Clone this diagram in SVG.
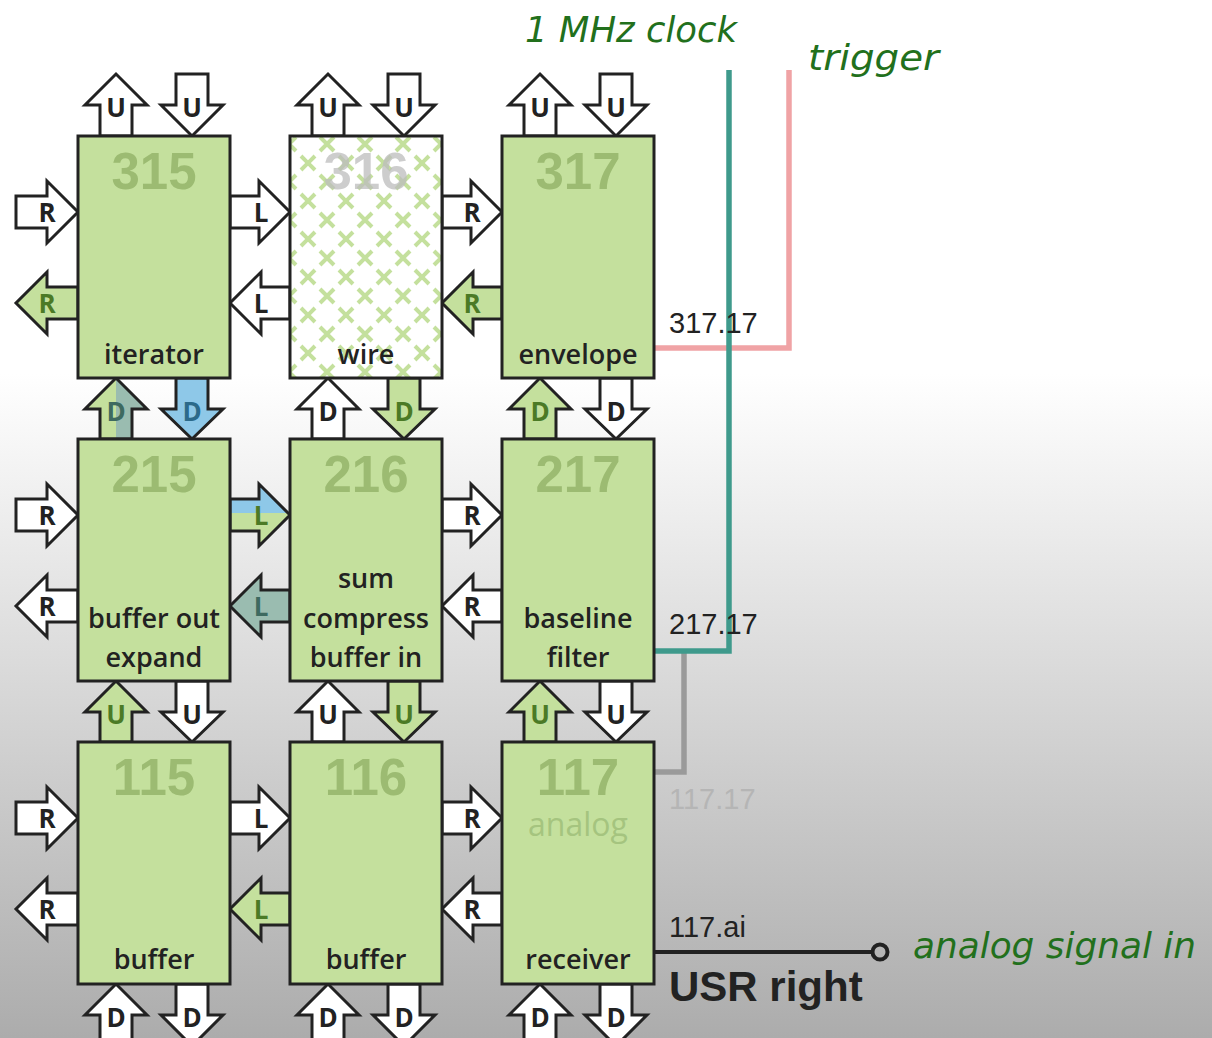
<svg xmlns="http://www.w3.org/2000/svg" width="1212" height="1038" viewBox="0 0 1212 1038">
<defs>
<linearGradient id="bg" gradientUnits="userSpaceOnUse" x1="0" y1="0" x2="0" y2="1038">
<stop offset="0.36" stop-color="#ffffff"/><stop offset="1" stop-color="#acacac"/>
</linearGradient>
<linearGradient id="splitGT" x1="0" y1="0" x2="1" y2="0">
<stop offset="0.5" stop-color="#c4e09d"/><stop offset="0.5" stop-color="#9abcb0"/>
</linearGradient>
<linearGradient id="splitBG" x1="0" y1="0" x2="0" y2="1">
<stop offset="0.47" stop-color="#8ec8e8"/><stop offset="0.47" stop-color="#c4e09d"/>
</linearGradient>
<pattern id="xpat" patternUnits="userSpaceOnUse" x="308" y="163" width="38" height="38">
<path d="M-7,-7L7,7M-7,7L7,-7M31,-7L45,7M31,7L45,-7M-7,31L7,45M-7,45L7,31M31,31L45,45M31,45L45,31M12,12L26,26M12,26L26,12" stroke="#c4e09d" stroke-width="4" fill="none"/>
</pattern>
<style>
.box{fill:#c4e09d;stroke:#222;stroke-width:3}
.frame{fill:none;stroke:#222;stroke-width:3}
.num{font-family:"Liberation Sans",Arial,sans-serif;font-weight:bold;font-size:51px;fill:#9cbb72;text-anchor:middle}
.lbl{font-family:"Open Sans","Liberation Sans",sans-serif;font-weight:600;font-size:27px;fill:#222;text-anchor:middle}
.arw{stroke:#222;stroke-width:3;stroke-linejoin:miter}
.w{fill:#fff}.g{fill:#c4e09d}.b{fill:#8ec8e8}.t{fill:#9abcb0}
.al{font-family:"Open Sans","Liberation Sans",sans-serif;font-weight:bold;font-size:26px;text-anchor:middle;fill:#222}
.lg{fill:#4b7a26}.lb{fill:#2c6a8a}.lt{fill:#3e6a60}
.wire{fill:none;stroke-width:5.5;stroke-linejoin:miter;stroke-linecap:butt}
.pin{font-family:"Liberation Sans",Arial,sans-serif;font-size:29px;fill:#222}
.hand{font-family:"DejaVu Sans",sans-serif;font-style:italic;font-size:36px;fill:#22701c}
</style>
</defs>
<rect x="0" y="0" width="1212" height="1038" fill="url(#bg)"/>

<g id="connectors">
<!-- top U arrows -->
<polygon class="arw w" points="100,136 100,105 85,105 116,74 147,105 132,105 132,136"/>
<polygon class="arw w" points="312,136 312,105 297,105 328,74 359,105 344,105 344,136"/>
<polygon class="arw w" points="524,136 524,105 509,105 540,74 571,105 556,105 556,136"/>
<polygon class="arw w" points="176,74 208,74 208,105 223,105 192,136 161,105 176,105"/>
<polygon class="arw w" points="388,74 420,74 420,105 435,105 404,136 373,105 388,105"/>
<polygon class="arw w" points="600,74 632,74 632,105 647,105 616,136 585,105 600,105"/>
<text class="al" x="116" y="117">U</text><text class="al" x="192" y="117">U</text>
<text class="al" x="328" y="117">U</text><text class="al" x="404" y="117">U</text>
<text class="al" x="540" y="117">U</text><text class="al" x="616" y="117">U</text>

<!-- rows 1-2 D arrows -->
<polygon class="arw" fill="url(#splitGT)" points="100,439 100,409 85,409 116,378 147,409 132,409 132,439"/>
<polygon class="arw w" points="312,439 312,409 297,409 328,378 359,409 344,409 344,439"/>
<polygon class="arw g" points="524,439 524,409 509,409 540,378 571,409 556,409 556,439"/>
<polygon class="arw b" points="176,378 208,378 208,409 223,409 192,439 161,409 176,409"/>
<polygon class="arw g" points="388,378 420,378 420,409 435,409 404,439 373,409 388,409"/>
<polygon class="arw w" points="600,378 632,378 632,409 647,409 616,439 585,409 600,409"/>
<text class="al lt" x="116" y="421">D</text><text class="al lb" x="192" y="421">D</text>
<text class="al" x="328" y="421">D</text><text class="al lg" x="404" y="421">D</text>
<text class="al lg" x="540" y="421">D</text><text class="al" x="616" y="421">D</text>

<!-- rows 2-3 U arrows -->
<polygon class="arw g" points="100,742 100,712 85,712 116,681 147,712 132,712 132,742"/>
<polygon class="arw w" points="312,742 312,712 297,712 328,681 359,712 344,712 344,742"/>
<polygon class="arw g" points="524,742 524,712 509,712 540,681 571,712 556,712 556,742"/>
<polygon class="arw w" points="176,681 208,681 208,712 223,712 192,742 161,712 176,712"/>
<polygon class="arw g" points="388,681 420,681 420,712 435,712 404,742 373,712 388,712"/>
<polygon class="arw w" points="600,681 632,681 632,712 647,712 616,742 585,712 600,712"/>
<text class="al lg" x="116" y="724">U</text><text class="al" x="192" y="724">U</text>
<text class="al" x="328" y="724">U</text><text class="al lg" x="404" y="724">U</text>
<text class="al lg" x="540" y="724">U</text><text class="al" x="616" y="724">U</text>

<!-- bottom D arrows -->
<polygon class="arw w" points="100,1046 100,1015 85,1015 116,984 147,1015 132,1015 132,1046"/>
<polygon class="arw w" points="312,1046 312,1015 297,1015 328,984 359,1015 344,1015 344,1046"/>
<polygon class="arw w" points="524,1046 524,1015 509,1015 540,984 571,1015 556,1015 556,1046"/>
<polygon class="arw w" points="176,984 208,984 208,1015 223,1015 192,1046 161,1015 176,1015"/>
<polygon class="arw w" points="388,984 420,984 420,1015 435,1015 404,1046 373,1015 388,1015"/>
<polygon class="arw w" points="600,984 632,984 632,1015 647,1015 616,1046 585,1015 600,1015"/>
<text class="al" x="116" y="1027">D</text><text class="al" x="192" y="1027">D</text>
<text class="al" x="328" y="1027">D</text><text class="al" x="404" y="1027">D</text>
<text class="al" x="540" y="1027">D</text><text class="al" x="616" y="1027">D</text>

<!-- row 1 horizontals -->
<polygon class="arw w" points="16,196 47,196 47,181 78,212 47,243 47,228 16,228"/>
<polygon class="arw g" points="78,287 47,287 47,272 16,303 47,334 47,319 78,319"/>
<polygon class="arw w" points="230,196 259,196 259,181 290,212 259,243 259,228 230,228"/>
<polygon class="arw w" points="290,287 261,287 261,272 230,303 261,334 261,319 290,319"/>
<polygon class="arw w" points="442,196 471,196 471,181 502,212 471,243 471,228 442,228"/>
<polygon class="arw g" points="502,287 473,287 473,272 442,303 473,334 473,319 502,319"/>
<text class="al" x="47" y="222">R</text><text class="al lg" x="47" y="313">R</text>
<text class="al" x="261" y="222">L</text><text class="al" x="261" y="313">L</text>
<text class="al" x="472" y="222">R</text><text class="al lg" x="472" y="313">R</text>

<!-- row 2 horizontals -->
<polygon class="arw w" points="16,499 47,499 47,484 78,515 47,546 47,531 16,531"/>
<polygon class="arw w" points="78,590 47,590 47,575 16,606 47,637 47,622 78,622"/>
<polygon class="arw" fill="url(#splitBG)" points="230,499 259,499 259,484 290,515 259,546 259,531 230,531"/>
<polygon class="arw t" points="290,590 261,590 261,575 230,606 261,637 261,622 290,622"/>
<polygon class="arw w" points="442,499 471,499 471,484 502,515 471,546 471,531 442,531"/>
<polygon class="arw w" points="502,590 473,590 473,575 442,606 473,637 473,622 502,622"/>
<text class="al" x="47" y="525">R</text><text class="al" x="47" y="616">R</text>
<text class="al lg" x="261" y="525">L</text><text class="al lt" x="261" y="616">L</text>
<text class="al" x="472" y="525">R</text><text class="al" x="472" y="616">R</text>

<!-- row 3 horizontals -->
<polygon class="arw w" points="16,802 47,802 47,787 78,818 47,849 47,834 16,834"/>
<polygon class="arw w" points="78,893 47,893 47,878 16,909 47,940 47,925 78,925"/>
<polygon class="arw w" points="230,802 259,802 259,787 290,818 259,849 259,834 230,834"/>
<polygon class="arw g" points="290,893 261,893 261,878 230,909 261,940 261,925 290,925"/>
<polygon class="arw w" points="442,802 471,802 471,787 502,818 471,849 471,834 442,834"/>
<polygon class="arw w" points="502,893 473,893 473,878 442,909 473,940 473,925 502,925"/>
<text class="al" x="47" y="828">R</text><text class="al" x="47" y="919">R</text>
<text class="al" x="261" y="828">L</text><text class="al lg" x="261" y="919">L</text>
<text class="al" x="472" y="828">R</text><text class="al" x="472" y="919">R</text>

<!-- external wires -->
<path class="wire" stroke="#f0a3a5" d="M654,348 H789 V70"/>
<path class="wire" stroke="#9a9a9a" d="M684,651 V772 H654"/>
<path class="wire" stroke="#3f9a8c" d="M654,651 H729 V70"/>
<path fill="none" stroke="#222" stroke-width="4" d="M654,952 H872"/>
<circle cx="880" cy="952" r="7.5" fill="none" stroke="#222" stroke-width="4"/>
<text class="pin" x="669" y="333">317.17</text>
<text class="pin" x="669" y="634">217.17</text>
<text class="pin" x="669" y="809" style="fill:#b5b5b5">117.17</text>
<text class="pin" x="669" y="937">117.ai</text>
<text x="669" y="1001" font-family="Liberation Sans, Arial, sans-serif" font-weight="bold" font-size="42" fill="#222">USR right</text>
<text class="hand" x="525" y="42" textLength="212" lengthAdjust="spacingAndGlyphs">1 MHz clock</text>
<text class="hand" x="808" y="70" textLength="131" lengthAdjust="spacingAndGlyphs">trigger</text>
<text class="hand" x="913" y="958" textLength="283" lengthAdjust="spacingAndGlyphs">analog signal in</text>
</g>

<g id="node-315">
<rect class="box" x="78" y="136" width="152" height="242"/>
<text class="num" x="154" y="189">315</text>
<text class="lbl" x="154" y="364">iterator</text>
</g>
<g id="node-316">
<rect x="290" y="136" width="152" height="242" fill="#fff"/>
<rect x="290" y="136" width="152" height="242" fill="url(#xpat)"/>
<text class="num" x="366" y="189" style="fill:#bdbdbd" opacity="0.75">316</text>
<rect class="frame" x="290" y="136" width="152" height="242"/>
<text class="lbl" x="366" y="364">wire</text>
</g>
<g id="node-317">
<rect class="box" x="502" y="136" width="152" height="242"/>
<text class="num" x="578" y="189">317</text>
<text class="lbl" x="578" y="364">envelope</text>
</g>
<g id="node-215">
<rect class="box" x="78" y="439" width="152" height="242"/>
<text class="num" x="154" y="492">215</text>
<text class="lbl" x="154" y="628">buffer out</text>
<text class="lbl" x="154" y="667">expand</text>
</g>
<g id="node-216">
<rect class="box" x="290" y="439" width="152" height="242"/>
<text class="num" x="366" y="492">216</text>
<text class="lbl" x="366" y="588">sum</text>
<text class="lbl" x="366" y="628">compress</text>
<text class="lbl" x="366" y="667">buffer in</text>
</g>
<g id="node-217">
<rect class="box" x="502" y="439" width="152" height="242"/>
<text class="num" x="578" y="492">217</text>
<text class="lbl" x="578" y="628">baseline</text>
<text class="lbl" x="578" y="667">filter</text>
</g>
<g id="node-115">
<rect class="box" x="78" y="742" width="152" height="242"/>
<text class="num" x="154" y="795">115</text>
<text class="lbl" x="154" y="969">buffer</text>
</g>
<g id="node-116">
<rect class="box" x="290" y="742" width="152" height="242"/>
<text class="num" x="366" y="795">116</text>
<text class="lbl" x="366" y="969">buffer</text>
</g>
<g id="node-117">
<rect class="box" x="502" y="742" width="152" height="242"/>
<text class="num" x="578" y="795">117</text>
<text x="578" y="836" font-family="Open Sans, Liberation Sans, sans-serif" font-size="32" fill="#a5c47f" text-anchor="middle">analog</text>
<text class="lbl" x="578" y="969">receiver</text>
</g>
</svg>
